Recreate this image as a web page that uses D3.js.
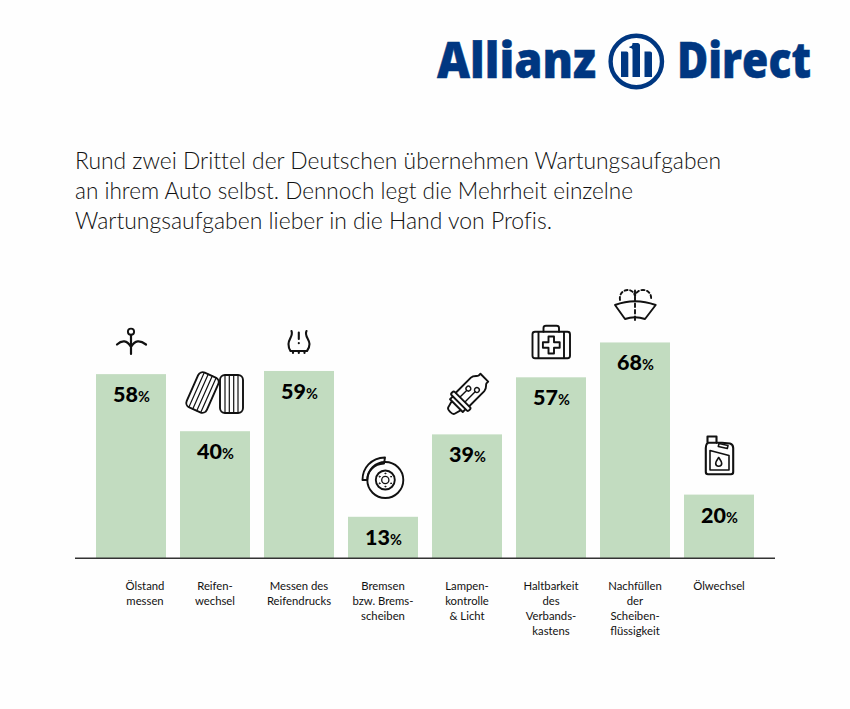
<!DOCTYPE html>
<html lang="de"><head><meta charset="utf-8">
<script src="https://cdn.jsdelivr.net/npm/d3@7"></script>
<style>
html,body{margin:0;padding:0;background:#fefefe}
svg{display:block}
text{font-family:Lato,"Noto Sans",sans-serif}
.ic{fill:none;stroke:#111;stroke-width:1.9;stroke-linecap:round;stroke-linejoin:round}
</style></head><body>
<svg id="c" width="850" height="709"></svg>
<script>
const categories=[["Ölstand","messen"],["Reifen-","wechsel"],["Messen des","Reifendrucks"],["Bremsen","bzw. Brems-","scheiben"],["Lampen-","kontrolle","& Licht"],["Haltbarkeit","des","Verbands-","kastens"],["Nachfüllen","der","Scheiben-","flüssigkeit"],["Ölwechsel"]];
const keys=["oel","reifen","druck","bremse","lampe","kasten","scheibe","wechsel"];
const values=[58,40,59,13,39,57,68,20];
const titleLines=["Rund zwei Drittel der Deutschen übernehmen Wartungsaufgaben","an ihrem Auto selbst. Dennoch legt die Mehrheit einzelne","Wartungsaufgaben lieber in die Hand von Profis."];

const svg=d3.select("#c");
const x=d3.scaleBand().domain(keys).range([96,754]).paddingInner(1/6);
const y=d3.scaleLinear().domain([0,100]).range([558,241]);
const BLUE="#003781";

// logo
const logo=svg.append("g").attr("fill",BLUE).attr("stroke",BLUE).attr("stroke-width",0.5);
logo.append("text").attr("x",437).attr("y",77.5).attr("font-size",49).attr("font-weight",800).attr("textLength",159).attr("lengthAdjust","spacingAndGlyphs").style("font-family","'Open Sans'").text("Allianz");
logo.append("text").attr("x",677).attr("y",77.5).attr("font-size",49).attr("font-weight",800).attr("textLength",134).attr("lengthAdjust","spacingAndGlyphs").style("font-family","'Open Sans'").text("Direct");
const lg=svg.append("g").attr("fill",BLUE);
lg.append("circle").attr("cx",636.3).attr("cy",61.5).attr("r",25.7).attr("fill","none").attr("stroke",BLUE).attr("stroke-width",4.4);
lg.append("path").attr("d","M621 51.5H626.5C627.7 51.5 628.3 52.2 628.3 53.5V77H621ZM644.5 51.5H650C651.3 51.5 652 52.3 652 53.5V77H644.5ZM629.5 46.5C631.5 46.5 632.5 45.5 632.5 43H637.5C639 43 640 44 640 45.5V77H632.5V50C632.5 48.5 631.5 48 629.5 48Z");

// title
const titleWidths=[646,558,477];
svg.append("g").selectAll("text").data(titleLines).join("text")
 .attr("x",75).attr("y",(d,i)=>168.5+i*30).attr("font-size",22.9).attr("font-weight",300).attr("fill","#111")
 .attr("textLength",(d,i)=>titleWidths[i]).attr("lengthAdjust","spacingAndGlyphs").style("font-variant-ligatures","none").text(d=>d);

// bars
svg.append("g").selectAll("rect").data(values).join("rect")
 .attr("x",(d,i)=>x(keys[i])).attr("width",x.bandwidth())
 .attr("y",d=>y(d)).attr("height",d=>y(0)-y(d)).attr("fill","#c2dcc0");

// values
const vt=svg.append("g").selectAll("text").data(values).join("text")
 .attr("x",(d,i)=>x(keys[i])+x.bandwidth()/2+0.5).attr("y",d=>y(d)+28)
 .attr("text-anchor","middle").attr("fill","#000").attr("font-weight",900).attr("font-size",21.5);
vt.append("tspan").text(d=>d);
vt.append("tspan").attr("font-size",14.5).attr("font-weight",700).text("%");

// axis
const ax=svg.append("g").attr("transform","translate(0,558)").call(d3.axisBottom(x).tickSize(0).tickFormat(""));
ax.select(".domain").remove();
svg.append("line").attr("x1",75).attr("x2",775).attr("y1",558.3).attr("y2",558.3).attr("stroke","#333").attr("stroke-width",1.4);
ax.selectAll(".tick text").each(function(k){
  const i=keys.indexOf(k), t=d3.select(this).attr("y",null).attr("dy",null).attr("text-anchor","middle").attr("fill","#111").style("font-size","11.3px").style("font-family","Lato");
  const dx=i===0?14:0;
  t.selectAll("tspan").data(categories[i]).join("tspan").attr("x",dx).attr("y",(d,j)=>32+j*15).text(d=>d);
});

// icons (positioned in page pixels)
const ic=svg.append("g").attr("class","ic");
// dipstick
ic.append("circle").attr("cx",131).attr("cy",331.7).attr("r",3.1);
ic.append("path").attr("stroke-width",2.2).attr("d","M131 335V354M117 344.5C122 340 127 340 131 347C135 340 140 340 146 344.5");
// tyres
const t1=ic.append("g").attr("transform","translate(202.5,392.5) rotate(24)");
t1.append("rect").attr("x",-11).attr("y",-19).attr("width",22).attr("height",38).attr("rx",5);
t1.append("path").attr("stroke-width",1.2).attr("d","M-6.5 -19V19M-2.2 -19V19M2.2 -19V19M6.5 -19V19");
const t2=ic.append("g").attr("transform","translate(231.5,394)");
t2.append("rect").attr("x",-11.5).attr("y",-19).attr("width",23).attr("height",38).attr("rx",5);
t2.append("path").attr("stroke-width",1.2).attr("d","M-6.5 -19V19M-2.2 -19V19M2.2 -19V19M6.5 -19V19");
// tyre pressure
ic.append("path").attr("stroke-width",2.1).attr("d","M291.5 331C293.5 336 288.5 339 288.5 344C288.5 347 289 349 290.5 351H307C308.5 349 309.5 347 309.5 344C309.5 339 304 336 306.5 331M293 351V353M298.8 351V353M304.5 351V353M298.8 332.5V339M298.8 343V343.3");
// brake
ic.append("circle").attr("cx",385.3).attr("cy",480).attr("r",18);
ic.append("circle").attr("cx",385.3).attr("cy",480).attr("r",9.5);
ic.append("circle").attr("cx",385.3).attr("cy",480).attr("r",3.6).attr("stroke-width",1.3);
d3.range(6).forEach(i=>{const a=i*Math.PI/3+Math.PI/6;ic.append("circle").attr("cx",385.3+6.6*Math.cos(a)).attr("cy",480+6.6*Math.sin(a)).attr("r",.5).attr("stroke-width",1);});
ic.append("path").attr("d","M362.5 480C362.5 468 371 458 385 457.5L384 463.5C374 464 367.5 471 367.3 480Z");
// bulb
const b=ic.append("g").attr("transform","translate(467,395) rotate(45)");
b.append("path").attr("d","M-9.5 6V-15C-9.5 -19 -6 -20 -5.5 -22V-24.5H5.5V-22C6 -20 9.5 -19 9.5 -15V6");
b.append("path").attr("d","M-11 6.5H11C12.8 6.5 12.8 11 11 11H-11C-12.8 11 -12.8 6.5 -11 6.5ZM-9 11V15H9V11M-6.5 15L-4.5 22C-4 24.5 4 24.5 4.5 22L6.5 15");
b.append("path").attr("stroke-width",1.4).attr("d","M-3.5 6V-3M3.5 6V-8");
b.append("circle").attr("cx",-3.5).attr("cy",-5.5).attr("r",2.4).attr("stroke-width",1.4);
b.append("circle").attr("cx",3.5).attr("cy",-10.5).attr("r",2.4).attr("stroke-width",1.4);
// first-aid kit
ic.append("rect").attr("x",532.5).attr("y",331.7).attr("width",37.5).attr("height",26.5).attr("rx",2.5);
ic.append("path").attr("d","M538.5 332V358M564 332V358M543.5 331.7V328C543.5 326.5 544.5 325.8 546 325.8H556.5C558 325.8 559 326.5 559 328V331.7");
ic.append("path").attr("d","M548.5 336.5H554V342.2H559.7V347.8H554V353.5H548.5V347.8H542.9V342.2H548.5Z");
// wiper
ic.append("path").attr("d","M615 305C628 300 642 300 655.7 305L645 319C638 316.5 632 316.5 625 319Z");
ic.append("path").attr("stroke-dasharray","3.5 3").attr("d","M635 290.5V323");
ic.append("path").attr("stroke-dasharray","3 2.6").attr("d","M620 300C619 294 623 290 628 290C631 290 634 292 635 296C636 292 639 290 643 290C648 290 652 294 651 300");
// canister
ic.append("path").attr("stroke-width",2.1).attr("d","M707.5 443.5V436.5H716.5V443M707 443.5C706 445 705.8 446 705.8 448V472C705.8 473.5 706.5 474.2 708 474.2H731C732.5 474.2 733.2 473.5 733.2 472V448C733.2 445.5 732 444 730 443.5L722 442.7H707.5");
ic.append("path").attr("stroke-width",1.6).attr("d","M719 443.5L728 445.5L727.3 448.5L718.3 446.5ZM710 450.5V470H729V455.5Z");
ic.append("path").attr("stroke-width",1.6).attr("d","M718.7 457.5C717 460 715.7 461.7 715.7 463.3C715.7 465 717 466.3 718.7 466.3C720.4 466.3 721.7 465 721.7 463.3C721.7 461.7 720.4 460 718.7 457.5Z");
</script></body></html>
